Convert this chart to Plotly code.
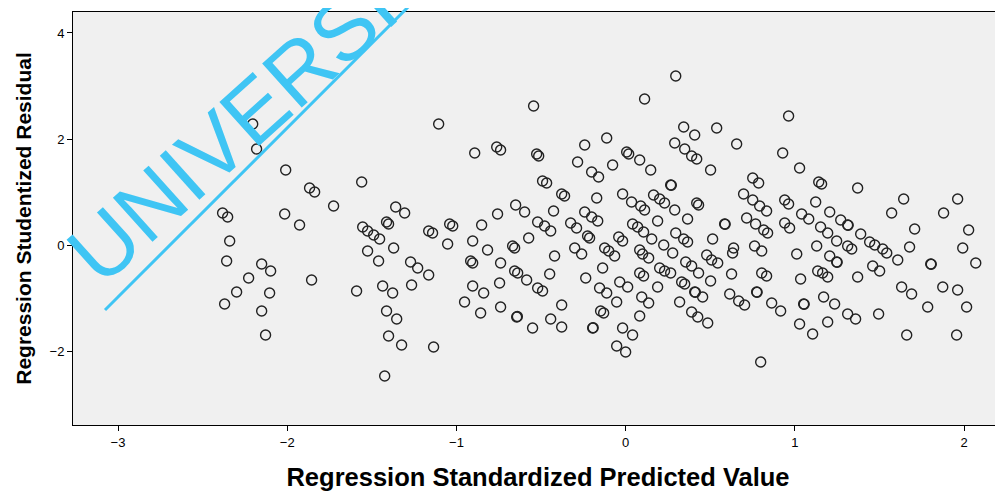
import plotly.graph_objects as go

# Regression Standardized Predicted Value
pred = [
 -2.204,-2.181,-2.009,-1.868,-1.838,-1.726,-2.382,-2.352,-2.015,-1.927,-2.340,-2.358,-2.151,-2.098,-2.228,-1.856,
 -2.299,-2.104,-2.370,-2.151,-2.128,-1.590,
 -1.105,-0.892,-0.762,-0.739,-1.560,-1.359,-1.306,-1.413,-1.401,-0.757,-1.554,-1.525,-1.489,-1.454,-1.164,-1.141,
 -1.040,-1.022,-0.851,-0.904,-1.052,-1.371,-1.525,-0.816,-1.460,-0.916,-0.904,-1.271,-1.229,-1.164,-0.739,-1.436,
 -1.377,-1.265,-0.904,-0.839,-0.952,-0.745,-1.413,-1.353,-0.857,-0.739,-1.401,-1.324,-1.135,-1.424,
 -0.544,0.112,-0.112,-0.242,-0.526,-0.514,0.006,0.018,0.083,-0.284,-0.077,-0.201,-0.160,-0.491,-0.467,-0.378,
 -0.361,-0.171,-0.018,0.035,0.089,0.112,-0.650,-0.597,-0.426,-0.242,-0.201,-0.165,-0.520,-0.479,-0.443,-0.325,
 -0.290,0.041,0.071,-0.573,-0.225,-0.213,-0.041,-0.018,-0.668,-0.656,-0.301,-0.124,-0.100,0.083,0.100,0.136,
 -0.420,-0.260,-0.065,-0.656,-0.638,-0.585,-0.449,-0.236,-0.136,-0.520,-0.491,-0.154,-0.112,-0.035,0.012,0.083,
 0.106,-0.053,0.095,0.136,-0.378,-0.644,-0.640,-0.148,-0.130,0.083,-0.443,-0.550,-0.378,-0.195,-0.192,-0.018,
 0.041,-0.053,0.000,
 0.296,0.343,0.408,0.538,0.290,0.349,0.390,0.420,0.656,0.928,0.963,0.148,0.502,0.266,0.270,0.751,0.786,0.165,
 0.201,0.230,0.290,0.420,0.431,0.697,0.751,0.792,0.833,0.940,0.963,0.189,0.366,0.585,0.588,0.715,0.768,0.816,
 0.839,0.940,0.969,0.106,0.154,0.296,0.343,0.366,0.514,0.225,0.638,0.762,0.804,0.278,0.355,0.390,0.479,0.508,
 0.544,0.632,0.201,0.230,0.266,0.331,0.349,0.431,0.502,0.626,0.804,0.833,0.189,0.408,0.412,0.455,0.615,0.668,
 0.703,0.774,0.777,0.319,0.863,0.916,0.390,0.426,0.485,0.798,
 1.028,1.141,1.158,1.371,1.643,1.572,1.708,1.123,1.040,1.082,1.206,1.271,1.312,1.315,1.152,1.194,1.247,1.389,
 1.442,1.472,1.519,1.129,1.312,1.678,1.336,1.543,1.608,1.803,1.806,1.011,1.206,1.247,1.250,1.135,1.164,1.194,
 1.034,1.371,1.460,1.501,1.631,1.690,1.170,1.235,1.052,1.055,1.312,1.359,1.495,1.785,1.028,1.194,1.105,1.661,
 1.879,1.962,2.027,1.992,2.069,1.874,1.962,2.015,1.956,
]

# Regression Studentized Residual
resid = [
 2.283,1.811,1.415,1.075,1.000,0.736,0.604,0.528,0.585,0.377,0.075,-0.302,-0.358,-0.491,-0.623,-0.660,
 -0.887,-0.906,-1.113,-1.245,-1.698,-0.868,
 2.283,1.736,1.849,1.792,1.189,0.717,0.604,0.434,0.396,0.585,0.340,0.264,0.189,0.113,0.264,0.226,
 0.396,0.358,0.377,0.075,0.019,-0.057,-0.113,-0.094,-0.302,-0.302,-0.340,-0.321,-0.434,-0.566,-0.340,-0.774,
 -0.906,-0.755,-0.774,-0.906,-1.075,-0.717,-1.245,-1.396,-1.283,-1.170,-1.717,-1.887,-1.925,-2.472,
 2.623,2.755,2.019,1.887,1.717,1.679,1.755,1.717,1.604,1.566,1.509,1.377,1.283,1.208,1.170,0.962,
 0.925,0.887,0.962,0.811,0.736,0.660,0.755,0.623,0.642,0.623,0.528,0.453,0.434,0.358,0.264,0.415,
 0.321,0.396,0.340,0.132,0.170,0.132,0.151,0.075,-0.019,-0.057,-0.057,-0.057,-0.113,-0.094,-0.170,-0.245,
 -0.208,-0.170,-0.208,-0.491,-0.528,-0.660,-0.547,-0.623,-0.434,-0.811,-0.868,-0.811,-0.906,-0.698,-0.792,-0.528,
 -0.585,-1.075,-0.981,-1.094,-1.132,-1.358,-1.350,-1.245,-1.283,-1.340,-1.396,-1.566,-1.547,-1.566,-1.560,-1.566,
 -1.698,-1.906,-2.019,
 3.189,2.226,2.075,2.208,1.925,1.811,1.679,1.623,1.906,1.736,2.434,1.415,1.415,1.132,1.127,1.264,1.170,0.943,
 0.868,0.792,0.660,0.792,0.755,0.962,0.849,0.736,0.642,0.849,0.774,0.453,0.491,0.396,0.392,0.509,0.396,0.283,
 0.226,0.415,0.321,0.245,0.113,0.226,0.113,0.057,0.113,0.000,-0.057,-0.019,-0.113,-0.151,-0.321,-0.396,-0.189,-0.283,
 -0.340,-0.151,-0.434,-0.491,-0.528,-0.698,-0.736,-0.528,-0.679,-0.547,-0.528,-0.585,-0.792,-0.887,-0.892,-0.981,-0.925,-1.057,
 -1.132,-0.887,-0.892,-1.075,-1.094,-1.245,-1.264,-1.358,-1.472,-2.208,
 1.453,1.189,1.151,1.075,0.868,0.604,0.302,0.811,0.585,0.491,0.623,0.472,0.377,0.372,0.340,0.226,0.075,0.208,
 0.057,0.000,-0.075,-0.019,-0.019,-0.038,-0.075,-0.151,-0.283,-0.358,-0.364,-0.170,-0.208,-0.321,-0.326,-0.491,-0.528,-0.604,
 -0.642,-0.604,-0.396,-0.491,-0.792,-0.925,-0.981,-1.113,-1.113,-1.118,-1.302,-1.396,-1.302,-1.170,-1.491,-1.453,-1.679,-1.698,
 0.604,0.868,0.283,-0.057,-0.340,-0.792,-0.849,-1.170,-1.698,
]

x_ticks = [-3, -2, -1, 0, 1, 2]
y_ticks = [-2, 0, 2, 4]
x_title = "Regression Standardized Predicted Value"
y_title = "Regression Studentized Residual"
watermark = "UNIVERSI"

wm_color = "#3fc5f4"
font_family = "Liberation Sans, Arial, sans-serif"

fig = go.Figure(
    go.Scatter(
        x=pred, y=resid, mode="markers",
        marker=dict(symbol="circle-open", size=10, color="#222222", line=dict(width=1.4)),
        hoverinfo="skip", showlegend=False,
    )
)

# page body adds an 8px margin, so the figure is sized to fill the rest of the window
fig.update_layout(
    width=995, height=485,
    margin=dict(l=65, r=0, t=4, b=68),
    paper_bgcolor="white",
    plot_bgcolor="#f0f0f0",
    font=dict(family=font_family, color="black"),
    xaxis=dict(
        range=[-3.266, 2.23], tickvals=x_ticks, ticks="outside", ticklen=5,
        tickcolor="black", showline=True, linecolor="black", linewidth=1, mirror=True,
        showgrid=False, zeroline=False, tickfont=dict(size=13),
        title=dict(text="<b>" + x_title + "</b>", font=dict(size=25.5), standoff=19),
    ),
    yaxis=dict(
        range=[-3.396, 4.396], tickvals=y_ticks, ticks="outside", ticklen=5,
        tickcolor="black", showline=True, linecolor="black", linewidth=1, mirror=True,
        showgrid=False, zeroline=False, tickfont=dict(size=13),
        title=dict(text="<b>" + y_title + "</b>", font=dict(size=21), standoff=12),
    ),
)

# Watermark line and text
fig.add_shape(type="line", xref="paper", yref="paper",
              x0=0.0344, y0=0.2785, x1=0.3785, y1=1.053,
              line=dict(color=wm_color, width=3))
fig.add_annotation(text=watermark, xref="paper", yref="paper", x=0.171, y=0.714,
                   xanchor="center", yanchor="middle", showarrow=False, textangle=-42,
                   font=dict(size=86, color=wm_color, family=font_family))

fig.write_html("out.html")
